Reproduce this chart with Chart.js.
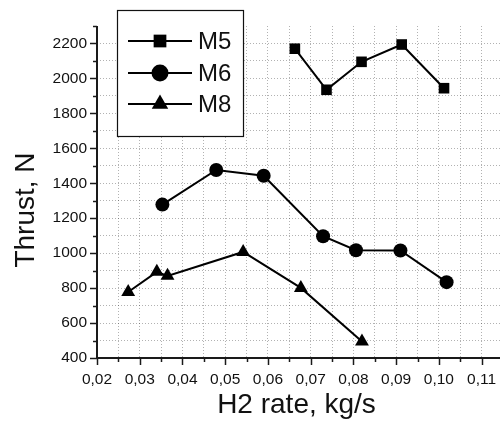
<!DOCTYPE html>
<html>
<head>
<meta charset="utf-8">
<script src="https://cdn.jsdelivr.net/npm/chart.js@4"></script>
<style>
  html, body { margin: 0; padding: 0; background: #fff; }
  #wrap { width: 500px; height: 421px; }
</style>
</head>
<body>
<div id="wrap"><canvas id="grafico"></canvas></div>
<script>
const seriesNames = ["M5", "M6", "M8"];
const m5Rate = [0.0663, 0.0737, 0.0819, 0.0913, 0.1012];
const m5Thrust = [2170, 1935, 2095, 2194, 1944];
const m6Rate = [0.0353, 0.0479, 0.0590, 0.0729, 0.0806, 0.0910, 0.1018];
const m6Thrust = [1278, 1476, 1443, 1097, 1017, 1015, 834];
const m8Rate = [0.0273, 0.0340, 0.0365, 0.0542, 0.0677, 0.0820];
const m8Thrust = [778, 893, 870, 1007, 801, 495];
const xTitle = "H2 rate, kg/s";
const yTitle = "Thrust, N";

const toPoints = (xs, ys) => xs.map((x, i) => ({ x: x, y: ys[i] }));

const isMajorX = (v) => Math.round(v * 200) % 2 === 0;
const isMajorY = (v) => Math.round(v) % 200 === 0;

const makeSet = (label, xs, ys, style, radius) => ({
    label: label,
    data: toPoints(xs, ys),
    showLine: true,
    borderColor: '#000',
    backgroundColor: '#000',
    borderWidth: 2,
    pointStyle: style,
    pointRadius: radius,
    pointHoverRadius: radius,
    pointBorderWidth: 0
});

// axis lines, tick marks, axis titles and the boxed legend
const extras = {
    id: 'extras',
    afterDraw(chart) {
        const ctx = chart.ctx;
        const xs = chart.scales.x;
        const ys = chart.scales.y;
        const area = chart.chartArea;
        ctx.save();
        ctx.strokeStyle = '#1a1a1a';
        ctx.lineWidth = 2;
        ctx.beginPath();
        ctx.moveTo(area.left, area.top);
        ctx.lineTo(area.left, area.bottom);
        ctx.lineTo(area.right, area.bottom);
        ctx.stroke();

        ctx.lineWidth = 1.5;
        xs.ticks.forEach(t => {
            const px = Math.round(xs.getPixelForValue(t.value)) + 0.5;
            const len = isMajorX(t.value) ? 7 : 4;
            ctx.beginPath();
            ctx.moveTo(px, area.bottom);
            ctx.lineTo(px, area.bottom + len);
            ctx.stroke();
        });
        ys.ticks.forEach(t => {
            const py = Math.round(ys.getPixelForValue(t.value)) + 0.5;
            const len = isMajorY(t.value) ? 7 : 4;
            ctx.beginPath();
            ctx.moveTo(area.left, py);
            ctx.lineTo(area.left - len, py);
            ctx.stroke();
        });

        ctx.fillStyle = '#111';
        ctx.font = '28px "Liberation Sans", Arial, sans-serif';
        ctx.textAlign = 'center';
        ctx.textBaseline = 'alphabetic';
        ctx.fillText(xTitle, (area.left + area.right) / 2 - 2, 413);
        ctx.translate(34, 210);
        ctx.rotate(-Math.PI / 2);
        ctx.fillText(yTitle, 0, 0);
        ctx.restore();

        // legend
        ctx.save();
        ctx.fillStyle = '#fff';
        ctx.fillRect(117, 10, 126, 126);
        ctx.strokeStyle = '#111';
        ctx.lineWidth = 1.2;
        ctx.strokeRect(117.5, 10.5, 126, 126);
        const rows = [41, 73, 104];
        chart.data.datasets.forEach((ds, i) => {
            const y = rows[i];
            ctx.strokeStyle = '#000';
            ctx.lineWidth = 2;
            ctx.beginPath();
            ctx.moveTo(128, y);
            ctx.lineTo(192, y);
            ctx.stroke();
            ctx.fillStyle = '#000';
            Chart.helpers.drawPoint(ctx, { pointStyle: ds.pointStyle, radius: ds.pointRadius + 1.5, borderWidth: 0 }, 160, y);
            ctx.fillStyle = '#111';
            ctx.font = '24px "Liberation Sans", Arial, sans-serif';
            ctx.textAlign = 'left';
            ctx.textBaseline = 'middle';
            ctx.fillText(ds.label, 198, y + 1);
        });
        ctx.restore();
    }
};

const gridColor = 'rgba(0,0,0,0.3)';
const hidden = 'rgba(0,0,0,0)';

new Chart(document.getElementById('grafico'), {
    type: 'scatter',
    data: {
        datasets: [
            makeSet(seriesNames[0], m5Rate, m5Thrust, 'rect', 7.5),
            makeSet(seriesNames[1], m6Rate, m6Thrust, 'circle', 7),
            makeSet(seriesNames[2], m8Rate, m8Thrust, 'triangle', 8)
        ]
    },
    options: {
        responsive: true,
        maintainAspectRatio: false,
        animation: false,
        layout: { autoPadding: false, padding: { top: 26, right: 0, left: 0, bottom: 0 } },
        plugins: {
            legend: { display: false },
            tooltip: { enabled: false }
        },
        scales: {
            x: {
                type: 'linear',
                min: 0.02,
                max: 0.1143,
                afterFit: (s) => { s.height = 63; s.paddingLeft = 0; s.paddingRight = 0; },
                border: { display: false, dash: [1, 2] },
                grid: {
                    drawTicks: false,
                    color: (c) => c.tick && c.tick.value <= 0.0201 ? hidden : gridColor,
                    lineWidth: 1
                },
                ticks: {
                    stepSize: 0.005,
                    includeBounds: false,
                    autoSkip: false,
                    maxRotation: 0,
                    padding: 12,
                    color: '#111',
                    font: { family: '"Liberation Sans", Arial, sans-serif', size: 15.5 },
                    callback: (v) => isMajorX(v) ? v.toFixed(2).replace('.', ',') : ''
                }
            },
            y: {
                type: 'linear',
                min: 400,
                max: 2300,
                afterFit: (s) => { s.width = 97; s.paddingTop = 0; s.paddingBottom = 0; },
                border: { display: false, dash: [1, 2] },
                grid: {
                    drawTicks: false,
                    color: (c) => c.tick && (c.tick.value <= 400 || c.tick.value >= 2300) ? hidden : gridColor,
                    lineWidth: 1
                },
                ticks: {
                    stepSize: 100,
                    autoSkip: false,
                    padding: 10,
                    color: '#111',
                    font: { family: '"Liberation Sans", Arial, sans-serif', size: 15.5 },
                    callback: (v) => isMajorY(v) ? String(v) : ''
                }
            }
        }
    },
    plugins: [extras]
});
</script>
</body>
</html>
